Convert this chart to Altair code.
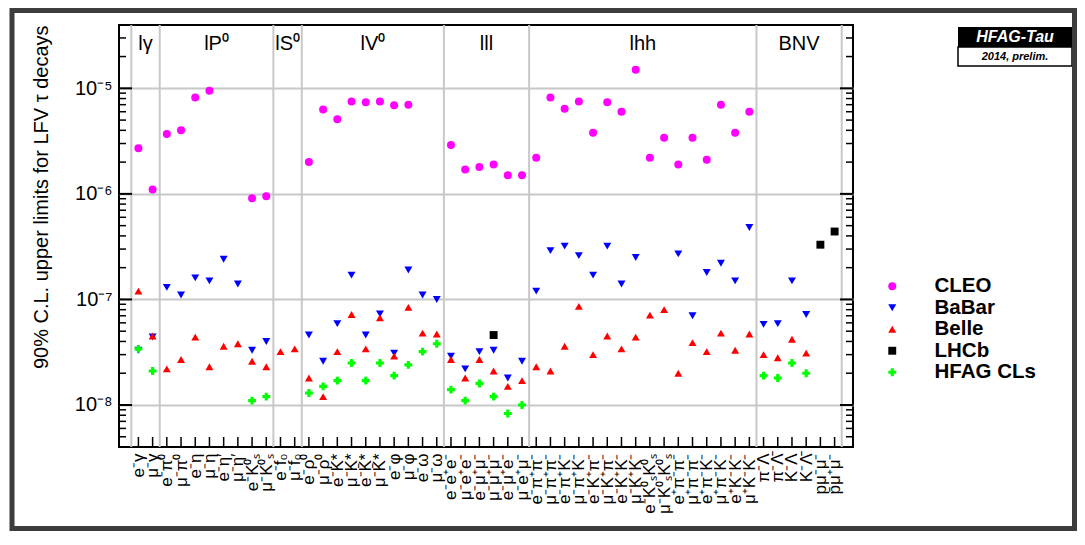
import json
import altair as alt
import pandas as pd

# ---------------- data ----------------
groups = ["lγ", "lP⁰", "lS⁰", "lV⁰", "lll", "lhh", "BNV"]
group_sizes = [2, 8, 2, 10, 6, 16, 6]

channels = [
    "e⁻γ", "μ⁻γ",
    "e⁻π⁰", "μ⁻π⁰", "e⁻η", "μ⁻η", "e⁻η′", "μ⁻η′", "e⁻K⁰ₛ", "μ⁻K⁰ₛ",
    "e⁻f₀", "μ⁻f₀",
    "e⁻ρ⁰", "μ⁻ρ⁰", "e⁻K*", "μ⁻K*", "e⁻K̄*", "μ⁻K̄*", "e⁻φ", "μ⁻φ", "e⁻ω", "μ⁻ω",
    "e⁻e⁺e⁻", "μ⁻e⁺e⁻", "e⁻μ⁺μ⁻", "μ⁻μ⁺μ⁻", "e⁻μ⁺e⁻", "μ⁻e⁺μ⁻",
    "e⁻π⁺π⁻", "μ⁻π⁺π⁻", "e⁻π⁺K⁻", "μ⁻π⁺K⁻", "e⁻K⁺π⁻", "μ⁻K⁺π⁻", "e⁻K⁺K⁻", "μ⁻K⁺K⁻",
    "e⁻K⁰ₛK⁰ₛ", "μ⁻K⁰ₛK⁰ₛ", "e⁺π⁻π⁻", "μ⁺π⁻π⁻", "e⁺π⁻K⁻", "μ⁺π⁻K⁻", "e⁺K⁻K⁻", "μ⁺K⁻K⁻",
    "π⁻Λ", "π⁻Λ̄", "K⁻Λ", "K⁻Λ̄", "pμ⁻μ⁻", "p̄μ⁺μ⁻",
]

experiments = ["CLEO", "BaBar", "Belle", "LHCb", "HFAG CLs"]
exp_colors = ["#ff00ff", "#0000ff", "#ff0000", "#000000", "#00ff00"]
exp_shapes = ["circle", "triangle-down", "triangle-up", "square", "cross"]
exp_sizes = [64, 62, 62, 46, 80]

cleo_cols = [0, 1, 2, 3, 4, 5, 8, 9, 12, 13, 14, 15, 16, 17, 18, 19,
             22, 23, 24, 25, 26, 27,
             28, 29, 30, 31, 32, 33, 34, 35, 36, 37, 38, 39, 40, 41, 42, 43]
cleo_vals = [2.7e-6, 1.1e-6, 3.7e-6, 4.0e-6, 8.2e-6, 9.5e-6, 9.1e-7, 9.5e-7,
             2.0e-6, 6.3e-6, 5.1e-6, 7.5e-6, 7.4e-6, 7.5e-6, 6.9e-6, 7.0e-6,
             2.9e-6, 1.7e-6, 1.8e-6, 1.9e-6, 1.5e-6, 1.5e-6,
             2.2e-6, 8.2e-6, 6.4e-6, 7.5e-6, 3.8e-6, 7.4e-6, 6.0e-6, 1.5e-5,
             2.2e-6, 3.4e-6, 1.9e-6, 3.4e-6, 2.1e-6, 7.0e-6, 3.8e-6, 6.0e-6]

babar_cols = [0, 1, 2, 3, 4, 5, 6, 7, 8, 9,
              12, 13, 14, 15, 16, 17, 18, 19, 20, 21,
              22, 23, 24, 25, 26, 27,
              28, 29, 30, 31, 32, 33, 34, 35, 38, 39, 40, 41, 42, 43,
              44, 45, 46, 47]
babar_vals = [3.3e-8, 4.4e-8, 1.3e-7, 1.1e-7, 1.6e-7, 1.5e-7, 2.4e-7, 1.4e-7, 3.3e-8, 4.0e-8,
              4.6e-8, 2.6e-8, 5.9e-8, 1.7e-7, 4.6e-8, 7.3e-8, 3.1e-8, 1.9e-7, 1.1e-7, 1.0e-7,
              2.9e-8, 2.2e-8, 3.2e-8, 3.3e-8, 1.8e-8, 2.6e-8,
              1.2e-7, 2.9e-7, 3.2e-7, 2.6e-7, 1.7e-7, 3.2e-7, 1.4e-7, 2.5e-7, 2.7e-7, 7.0e-8,
              1.8e-7, 2.2e-7, 1.5e-7, 4.8e-7,
              5.8e-8, 5.9e-8, 1.5e-7, 7.2e-8]

belle_cols = list(range(0, 48))
belle_vals = [1.2e-7, 4.5e-8,
              2.2e-8, 2.7e-8, 4.4e-8, 2.3e-8, 3.6e-8, 3.8e-8, 2.6e-8, 2.3e-8,
              3.2e-8, 3.4e-8,
              1.8e-8, 1.2e-8, 3.2e-8, 7.2e-8, 3.4e-8, 6.7e-8, 2.9e-8, 8.4e-8, 4.8e-8, 4.7e-8,
              2.7e-8, 1.8e-8, 2.7e-8, 2.1e-8, 1.5e-8, 1.7e-8,
              2.3e-8, 2.1e-8, 3.6e-8, 8.6e-8, 3.0e-8, 4.5e-8, 3.4e-8, 4.4e-8,
              7.1e-8, 8.0e-8, 2.0e-8, 3.9e-8, 3.2e-8, 4.8e-8, 3.3e-8, 4.7e-8,
              3.0e-8, 2.8e-8, 4.2e-8, 3.1e-8]

lhcb_cols = [25, 48, 49]
lhcb_vals = [4.6e-8, 3.3e-7, 4.4e-7]

hfag_cols = [0, 1, 8, 9, 12, 13, 14, 15, 16, 17, 18, 19, 20, 21,
             22, 23, 24, 25, 26, 27, 44, 45, 46, 47]
hfag_vals = [3.4e-8, 2.1e-8, 1.1e-8, 1.2e-8, 1.3e-8, 1.5e-8, 1.7e-8, 2.5e-8, 1.7e-8, 2.5e-8,
             1.9e-8, 2.4e-8, 3.2e-8, 3.8e-8,
             1.4e-8, 1.1e-8, 1.6e-8, 1.2e-8, 8.3e-9, 1.0e-8,
             1.9e-8, 1.8e-8, 2.5e-8, 2.0e-8]

y_major = [1e-8, 1e-7, 1e-6, 1e-5]
y_major_labels = ["10⁻⁸", "10⁻⁷", "10⁻⁶", "10⁻⁵"]
y_minor = [5e-9, 6e-9, 7e-9, 8e-9, 9e-9,
           2e-8, 3e-8, 4e-8, 5e-8, 6e-8, 7e-8, 8e-8, 9e-8,
           2e-7, 3e-7, 4e-7, 5e-7, 6e-7, 7e-7, 8e-7, 9e-7,
           2e-6, 3e-6, 4e-6, 5e-6, 6e-6, 7e-6, 8e-6, 9e-6,
           2e-5, 3e-5]

# ---------------- tables ----------------
rows = []
for name, cols, vals in [("CLEO", cleo_cols, cleo_vals), ("BaBar", babar_cols, babar_vals),
                         ("Belle", belle_cols, belle_vals), ("LHCb", lhcb_cols, lhcb_vals),
                         ("HFAG CLs", hfag_cols, hfag_vals)]:
    for c, v in zip(cols, vals):
        rows.append({"x": c + 0.5, "v": v, "exp": name, "order": experiments.index(name)})
pts = pd.DataFrame(rows)

bounds = [0]
for s in group_sizes:
    bounds.append(bounds[-1] + s)
bound_df = pd.DataFrame({"x": bounds})
grp_df = pd.DataFrame({"g": groups,
                       "x": [(bounds[i] + bounds[i + 1]) / 2 for i in range(len(groups))]})
centers = [i + 0.5 for i in range(len(channels))]
center_df = pd.DataFrame({"x": centers})
major_df = pd.DataFrame({"v": y_major})
minor_df = pd.DataFrame({"v": y_minor})

W, H = 734, 422
FONT = "Liberation Sans"
xscale = alt.Scale(domain=[-0.866, 50.795], nice=False, zero=False)
yscale = alt.Scale(type="log", domain=[4.0e-9, 3.98e-5], nice=False)

x_label_expr = json.dumps(channels, ensure_ascii=False) + "[floor(datum.value)]"
y_label_expr = json.dumps(y_major_labels, ensure_ascii=False) + "[round(log(datum.value)/LN10)+8]"

XAX = alt.Axis(values=centers, labelExpr=x_label_expr, labelAngle=-90,
               labelAlign="right", labelBaseline="middle", labelFontSize=17,
               labelFont=FONT, labelColor="#000", labelPadding=6, ticks=False,
               tickSize=0, domain=False, grid=False, title=None,
               labelOverlap=False, labelFlush=False, labelBound=False)
YAX = alt.Axis(values=y_major, labelExpr=y_label_expr, grid=True,
               gridColor="#c8c8c8", gridWidth=2, ticks=False, tickSize=0,
               domain=False, labelFontSize=20, labelFont=FONT, labelColor="#000",
               labelPadding=7, labelBaseline="middle",
               title="90% C.L. upper limits for LFV τ decays",
               titleFont=FONT, titleFontSize=20, titleFontWeight="normal",
               titleColor="#000", titleAngle=-90, titleAlign="right",
               titleBaseline="middle", titleX=-78, titleY=0)


def X(field):
    return alt.X(field, type="quantitative", scale=xscale, axis=XAX)


def Y(field):
    return alt.Y(field, type="quantitative", scale=yscale, axis=YAX)


LEG = dict(title=None, orient="none", legendX=763, legendY=251,
           labelFontSize=20.5, labelFont=FONT, labelFontWeight="bold",
           labelColor="#000", symbolSize=70, labelOffset=32,
           rowPadding=0.5, padding=0, symbolStrokeWidth=0)

points = alt.Chart(pts).mark_point(filled=True, opacity=1).encode(
    x=X("x"),
    y=Y("v"),
    color=alt.Color("exp:N", scale=alt.Scale(domain=experiments, range=exp_colors),
                    legend=alt.Legend(**LEG)),
    shape=alt.Shape("exp:N", scale=alt.Scale(domain=experiments, range=exp_shapes),
                    legend=alt.Legend(**LEG)),
    size=alt.Size("exp:N", scale=alt.Scale(domain=experiments, range=exp_sizes), legend=None),
    order=alt.Order("order:Q"),
)

# vertical group separators
seps = alt.Chart(bound_df).mark_rule(color="#c8c8c8", strokeWidth=2).encode(x=X("x"))

# inward ticks (ROOT style)
x_ticks = alt.Chart(center_df).mark_rule(color="black", strokeWidth=1.5).encode(
    x=X("x"), y=alt.value(H), y2=alt.value(H - 10)
)
yl_major = alt.Chart(major_df).mark_rule(color="black", strokeWidth=2).encode(
    y=Y("v"), x=alt.value(0), x2=alt.value(13)
)
yl_minor = alt.Chart(minor_df).mark_rule(color="black", strokeWidth=1.5).encode(
    y=Y("v"), x=alt.value(0), x2=alt.value(7)
)
yr_major = alt.Chart(major_df).mark_rule(color="black", strokeWidth=2).encode(
    y=Y("v"), x=alt.value(W), x2=alt.value(W - 13)
)
yr_minor = alt.Chart(minor_df).mark_rule(color="black", strokeWidth=1.5).encode(
    y=Y("v"), x=alt.value(W), x2=alt.value(W - 7)
)

group_text = alt.Chart(grp_df).mark_text(fontSize=20, font=FONT, baseline="middle",
                                         align="center", color="black").encode(
    x=X("x"), y=alt.value(19), text="g:N"
)

# HFAG-Tau badge and outer frame
badge_top = alt.Chart(pd.DataFrame({"t": ["HFAG-Tau"]})).mark_rect(color="black").encode(
    x=alt.value(839), x2=alt.value(953), y=alt.value(2), y2=alt.value(22)
)
badge_bot = alt.Chart(pd.DataFrame({"t": ["2014, prelim."]})).mark_rect(
    fill="white", stroke="black", strokeWidth=1.5).encode(
    x=alt.value(839), x2=alt.value(953), y=alt.value(22), y2=alt.value(41)
)
badge_t1 = alt.Chart(pd.DataFrame({"t": ["HFAG-Tau"]})).mark_text(
    color="white", fontSize=16, fontWeight="bold", fontStyle="italic", font=FONT,
    baseline="middle").encode(x=alt.value(896), y=alt.value(12), text="t:N")
badge_t2 = alt.Chart(pd.DataFrame({"t": ["2014, prelim."]})).mark_text(
    color="black", fontSize=11, fontWeight="bold", fontStyle="italic", font=FONT,
    baseline="middle").encode(x=alt.value(896), y=alt.value(32), text="t:N")
frame = alt.Chart(pd.DataFrame({"t": [0]})).mark_rect(
    fill="transparent", stroke="#3d3d3d", strokeWidth=5).encode(
    x=alt.value(-107), x2=alt.value(955.5), y=alt.value(-14.5), y2=alt.value(503.5)
)

chart = alt.layer(
    points, seps, x_ticks, yl_major, yl_minor, yr_major, yr_minor, group_text,
    badge_top, badge_bot, badge_t1, badge_t2, frame
).properties(
    width=W, height=H,
    padding={"left": 111, "top": 17, "right": 224, "bottom": 86},
    autosize=alt.AutoSizeParams(type="none"),
    background="white",
).configure_view(stroke="black", strokeWidth=2)

chart.save("out.html", embed_options={"renderer": "svg", "actions": False})
